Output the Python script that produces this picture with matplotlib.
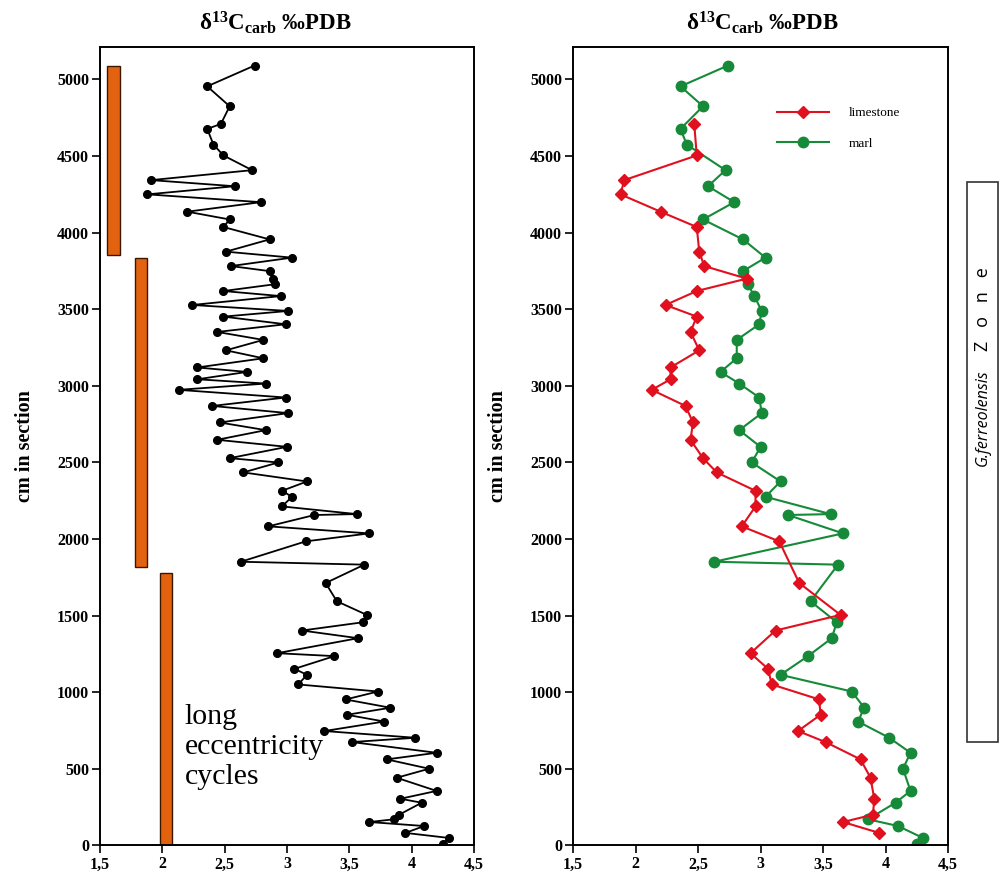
import numpy as np
import matplotlib
matplotlib.use("Agg")
import matplotlib.pyplot as plt
from matplotlib.patches import Rectangle

# ---------------- data ----------------
limestone_d13c = [2.47, 2.49, 1.91, 1.88, 2.20, 2.49, 2.51, 2.55, 2.89, 2.49, 2.24, 2.49,
                  2.44, 2.51, 2.28, 2.28, 2.13, 2.40, 2.46, 2.44, 2.54, 2.65, 2.96, 2.96,
                  2.85, 3.15, 3.31, 3.64, 3.12, 2.92, 3.06, 3.09, 3.47, 3.48, 3.30, 3.52,
                  3.80, 3.88, 3.91, 3.90, 3.66, 3.95]
limestone_cm = [4709, 4503, 4342, 4249, 4136, 4036, 3875, 3781, 3699, 3618, 3527, 3451,
                3351, 3231, 3119, 3042, 2973, 2868, 2760, 2647, 2527, 2434, 2314, 2212,
                2082, 1984, 1712, 1504, 1402, 1254, 1152, 1050, 952, 852, 746, 674,
                561, 441, 304, 200, 152, 81]

marl_d13c = [2.74, 2.36, 2.54, 2.36, 2.41, 2.72, 2.58, 2.79, 2.54, 2.86, 3.04, 2.86,
             2.90, 2.95, 3.01, 2.99, 2.81, 2.81, 2.68, 2.83, 2.99, 3.01, 2.83, 3.00,
             2.93, 3.16, 3.04, 3.56, 3.22, 3.66, 2.63, 3.62, 3.40, 3.61, 3.57, 3.38,
             3.16, 3.73, 3.83, 3.78, 4.03, 4.20, 4.14, 4.20, 4.08, 3.86, 4.10, 4.30, 4.25]
marl_cm = [5090, 4954, 4824, 4676, 4574, 4407, 4302, 4198, 4085, 3955, 3836, 3748,
           3662, 3585, 3488, 3401, 3299, 3179, 3090, 3014, 2923, 2821, 2710, 2601,
           2499, 2375, 2275, 2162, 2156, 2036, 1851, 1832, 1593, 1456, 1352, 1235,
           1113, 1004, 898, 808, 702, 604, 500, 355, 278, 170, 126, 48, 11]

# long eccentricity cycles (x position, bottom, top in cm)
cycle_x = [1.61, 1.83, 2.03]
cycle_bottom = [3850, 1815, 0]
cycle_top = [5085, 3836, 1778]

x_ticks = [1.5, 2, 2.5, 3, 3.5, 4, 4.5]
x_tick_labels = ["1,5", "2", "2,5", "3", "3,5", "4", "4,5"]
y_ticks = list(range(0, 5001, 500))

# combined record (all samples ordered by stratigraphic position)
all_x = np.concatenate([limestone_d13c, marl_d13c])
all_y = np.concatenate([limestone_cm, marl_cm])
order = np.argsort(-all_y, kind="stable")
comb_x = all_x[order]
comb_y = all_y[order]

# ---------------- style ----------------
plt.rcParams["font.family"] = ["Liberation Serif", "DejaVu Serif"]
plt.rcParams["mathtext.fontset"] = "custom"
plt.rcParams["mathtext.rm"] = "Liberation Serif:bold"
plt.rcParams["mathtext.it"] = "Liberation Serif:bold"
plt.rcParams["mathtext.bf"] = "Liberation Serif:bold"

RED = "#e0101e"
GREEN = "#168a38"
ORANGE = "#e2620f"

fig = plt.figure(figsize=(10, 8.81), dpi=100)
ax1 = fig.add_axes([0.100, 0.0405, 0.374, 0.906])
ax2 = fig.add_axes([0.573, 0.0405, 0.375, 0.906])

title = r"$\mathrm{δ}^{13}\mathrm{C}_{\mathrm{carb}}$ ‰PDB"

for ax, tx in ((ax1, 0.468), (ax2, 0.505)):
    ax.set_xlim(1.5, 4.5)
    ax.set_ylim(0, 5210)
    ax.set_xticks(x_ticks)
    ax.set_xticklabels(x_tick_labels)
    ax.set_yticks(y_ticks)
    ax.tick_params(axis="both", direction="out", length=6, width=1.2, pad=2,
                   labelsize=11.5)
    for lab in ax.get_xticklabels() + ax.get_yticklabels():
        lab.set_fontweight("bold")
    for sp in ax.spines.values():
        sp.set_linewidth(1.4)
    ax.set_ylabel("cm in section", fontsize=14.5, fontweight="bold", labelpad=16)
    ax.set_title(title, fontsize=16.5, fontweight="bold", pad=12, x=tx)

# left panel
ax1.bar(cycle_x, np.array(cycle_top) - np.array(cycle_bottom), bottom=cycle_bottom,
        width=0.1, color=ORANGE, edgecolor="#3a1800", linewidth=1.0, zorder=2)
ax1.plot(comb_x, comb_y, color="black", lw=1.3, marker="o", ms=5.5,
         markerfacecolor="black", zorder=3)
ax1.text(2.18, 645, "long\neccentricity\ncycles", fontsize=21.5, va="center",
         ha="left", linespacing=1.2)

# right panel
ax2.plot(limestone_d13c, limestone_cm, color=RED, lw=1.5, marker="D", ms=6,
         label="limestone", zorder=3)
ax2.plot(marl_d13c, marl_cm, color=GREEN, lw=1.5, marker="o", ms=7.5,
         label="marl", zorder=2)
ax2.legend(loc="upper left", bbox_to_anchor=(0.543, 0.925), frameon=False,
           fontsize=9.5, handlelength=4.0, handletextpad=1.5, labelspacing=1.4,
           borderpad=0, borderaxespad=0)

# biozone box
fig.add_artist(Rectangle((0.9667, 0.1581), 0.0316, 0.6357, transform=fig.transFigure,
                         fill=False, edgecolor="#333333", linewidth=1.2))
fig.text(0.983, 0.5255, "G.ferreolensis", rotation=90, ha="center", va="center",
         fontsize=11.5, style="italic", family="Open Sans")
fig.text(0.983, 0.6487, "Z   o   n   e", rotation=90, ha="center", va="center",
         fontsize=13, family="Open Sans")

fig.savefig("out.png", dpi=100)
